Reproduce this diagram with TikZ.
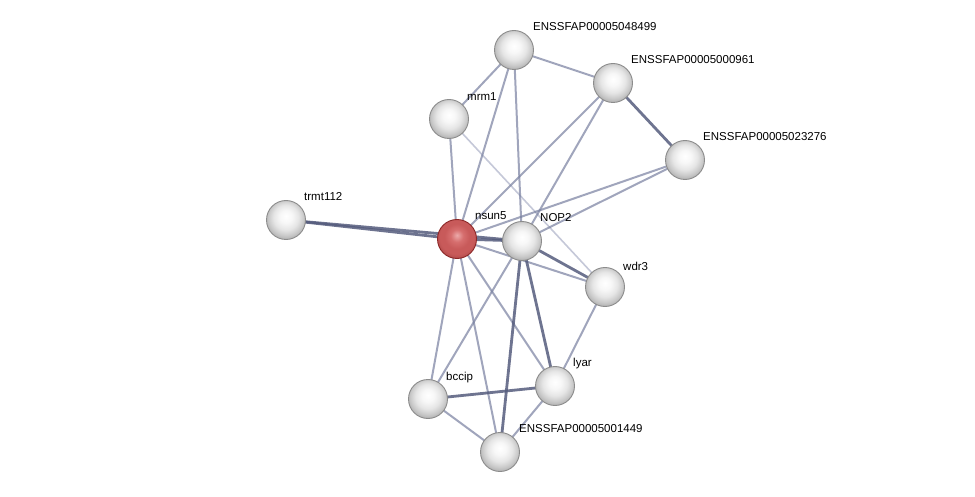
\documentclass[tikz,border=0pt]{standalone}
\usepackage{fontspec}
\setmainfont{Liberation Sans}
\definecolor{rA}{RGB}{236,170,170}
\definecolor{rB}{RGB}{214,110,110}
\definecolor{rC}{RGB}{200,90,90}
\definecolor{rD}{RGB}{185,80,80}
\pgfdeclareradialshading{greysphere}{\pgfpoint{0bp}{5bp}}{%
  color(0bp)=(white); color(8bp)=(black!3); color(16bp)=(black!10); color(22bp)=(black!20); color(26bp)=(black!28); color(50bp)=(black!28)}
\pgfdeclareradialshading{redsphere}{\pgfpoint{0bp}{5bp}}{%
  color(0bp)=(rA); color(8bp)=(rB); color(16bp)=(rC); color(22bp)=(rC); color(26bp)=(rD); color(50bp)=(rD)}
\begin{document}
\begin{tikzpicture}[x=1pt,y=-1pt,
  prot/.style={circle,minimum size=39pt,inner sep=0pt,draw=black!45,line width=0.9pt,shading=greysphere},
  protred/.style={prot,shading=redsphere,draw={rgb,255:red,140;green,40;blue,40}},
  lbl/.style={anchor=west,font=\fontsize{11.5}{12}\selectfont,inner sep=0pt},
  ethick/.style={draw={rgb,255:red,85;green,92;blue,125},line width=2.8pt,opacity=0.85},
  emed/.style={draw={rgb,255:red,120;green,128;blue,160},line width=2pt,opacity=0.7},
  elight/.style={draw={rgb,255:red,150;green,156;blue,185},line width=1.6pt,opacity=0.55}]
\useasboundingbox (0,0) rectangle (975,497);
\fill[white] (0,0) rectangle (975,497);
% coordinates of node centres
\coordinate (pA) at (514,50);
\coordinate (pB) at (613,83);
\coordinate (pM) at (449,119);
\coordinate (pC) at (685,160);
\coordinate (pT) at (286,220);
\coordinate (pN) at (457,239);
\coordinate (pP) at (522,241);
\coordinate (pW) at (605,287);
\coordinate (pL) at (555,386);
\coordinate (pBc) at (428,399);
\coordinate (pE) at (500,452);
% edges
\draw[elight] (pM) -- (pW);
\draw[emed] (pA) -- (pB);
\draw[emed] (pA) -- (pM);
\draw[emed] (pA) -- (pN);
\draw[emed] (pA) -- (pP);
\draw[emed] (pB) -- (pN);
\draw[emed] (pB) -- (pP);
\draw[emed] (pM) -- (pN);
\draw[emed] (pC) -- (pN);
\draw[emed] (pC) -- (pP);
\draw[emed] (pN) -- (pW);
\draw[emed] (pN) -- (pBc);
\draw[emed] (pN) -- (pE);
\draw[emed] (pN) -- (pL);
\draw[emed] (pP) -- (pBc);
\draw[emed] (pBc) -- (pE);
\draw[emed] (pL) -- (pE);
\draw[emed] (pW) -- (pL);
\draw[ethick] (pB) -- (pC);
\draw[ethick] (pT) -- (pN);
\draw[ethick] (pT) -- (pP);
\draw[ethick] (pN) -- (pP);
\draw[ethick] (pP) -- (pW);
\draw[ethick] (pP) -- (pL);
\draw[ethick] (pP) -- (pE);
\draw[ethick] (pBc) -- (pL);
% nodes
\node[prot] (a) at (pA) {};
\node[prot] (b) at (pB) {};
\node[prot] (m) at (pM) {};
\node[prot] (c) at (pC) {};
\node[prot] (t) at (pT) {};
\node[protred] (n) at (pN) {};
\node[prot] (p) at (pP) {};
\node[prot] (w) at (pW) {};
\node[prot] (l) at (pL) {};
\node[prot] (bc) at (pBc) {};
\node[prot] (e) at (pE) {};
% labels
\node[lbl] (la) at ([shift={(19,-23)}]pA) {ENSSFAP00005048499};
\node[lbl] (lb) at ([shift={(18,-23)}]pB) {ENSSFAP00005000961};
\node[lbl] (lm) at ([shift={(18,-22)}]pM) {mrm1};
\node[lbl] (lc) at ([shift={(18,-23)}]pC) {ENSSFAP00005023276};
\node[lbl] (lt) at ([shift={(18,-23)}]pT) {trmt112};
\node[lbl] (ln) at ([shift={(18,-23)}]pN) {nsun5};
\node[lbl] (lp) at ([shift={(18,-23)}]pP) {NOP2};
\node[lbl] (lw) at ([shift={(18,-21)}]pW) {wdr3};
\node[lbl] (ll) at ([shift={(18,-22)}]pL) {lyar};
\node[lbl] (lbc) at ([shift={(18,-21)}]pBc) {bccip};
\node[lbl] (le) at ([shift={(19,-23)}]pE) {ENSSFAP00005001449};
\end{tikzpicture}
\end{document}
